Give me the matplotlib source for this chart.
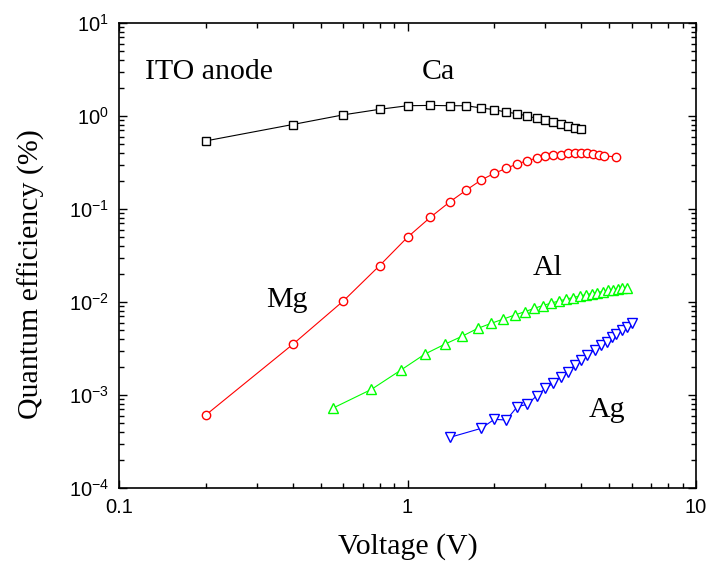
import matplotlib
matplotlib.use("Agg")
import matplotlib.pyplot as plt
from matplotlib.ticker import LogLocator, NullFormatter, FixedFormatter, FixedLocator

# data (voltage in V, quantum efficiency in %)
ca_v = [0.2, 0.4, 0.6, 0.8, 1.0, 1.2, 1.4, 1.6, 1.8, 2.0,
        2.2, 2.4, 2.6, 2.8, 3.0, 3.2, 3.4, 3.6, 3.8, 4.0]
ca_q = [0.54, 0.81, 1.03, 1.18, 1.29, 1.30, 1.29, 1.29, 1.22, 1.17,
        1.10, 1.06, 1.00, 0.945, 0.906, 0.862, 0.826, 0.787, 0.748, 0.719]

mg_v = [0.2, 0.4, 0.6, 0.8, 1.0, 1.2, 1.4, 1.6, 1.8, 2.0,
        2.2, 2.4, 2.6, 2.8, 3.0, 3.2, 3.4, 3.6, 3.8, 4.0,
        4.2, 4.4, 4.6, 4.8, 5.3]
mg_q = [6.1e-4, 3.5e-3, 0.0103, 0.0246, 0.0497, 0.0814, 0.119, 0.160, 0.205, 0.242,
        0.274, 0.305, 0.331, 0.351, 0.371, 0.381, 0.381, 0.397, 0.400, 0.400,
        0.397, 0.390, 0.381, 0.371, 0.365]

al_v = [0.55, 0.75, 0.95, 1.15, 1.35, 1.55, 1.75, 1.95, 2.15, 2.35,
        2.55, 2.75, 2.95, 3.15, 3.35, 3.55, 3.75, 3.95, 4.15, 4.35,
        4.55, 4.75, 4.95, 5.15, 5.35, 5.55, 5.75]
al_q = [7.2e-4, 1.15e-3, 1.86e-3, 2.76e-3, 3.53e-3, 4.3e-3, 5.2e-3, 5.9e-3, 6.56e-3, 7.24e-3,
        7.87e-3, 8.55e-3, 9.17e-3, 9.76e-3, 1.025e-2, 1.076e-2, 1.117e-2, 1.161e-2, 1.198e-2, 1.234e-2,
        1.265e-2, 1.297e-2, 1.33e-2, 1.356e-2, 1.38e-2, 1.403e-2, 1.432e-2]

ag_v = [1.4, 1.8, 2.0, 2.2, 2.4, 2.6, 2.8, 3.0, 3.2, 3.4,
        3.6, 3.8, 4.0, 4.2, 4.45, 4.7, 4.9, 5.1, 5.3, 5.55,
        5.75, 6.0]
ag_q = [3.5e-4, 4.38e-4, 5.48e-4, 5.38e-4, 7.48e-4, 7.94e-4, 9.75e-4, 1.18e-3, 1.34e-3, 1.57e-3,
        1.78e-3, 2.10e-3, 2.38e-3, 2.69e-3, 3.05e-3, 3.45e-3, 3.74e-3, 4.17e-3, 4.53e-3, 5.0e-3,
        5.42e-3, 5.90e-3]

x_ticks = [0.1, 1, 10]
x_tick_labels = ["0.1", "1", "10"]

serif = ["Liberation Serif", "DejaVu Serif"]
tick_font = ["Liberation Sans Narrow", "Liberation Sans", "DejaVu Sans"]

plt.rcParams["font.family"] = tick_font
plt.rcParams["mathtext.default"] = "regular"

fig = plt.figure(figsize=(7.1, 5.68), dpi=100)
ax = fig.add_axes([0.1676, 0.1408, 0.8127, 0.8187])

# main curves
ax.plot(ca_v, ca_q, "-s", color="black", lw=0.8, ms=6, mew=1.0, mfc="white")
ax.plot(mg_v, mg_q, "-o", color="red", lw=0.8, ms=6, mew=1.0, mfc="white")
ax.plot(al_v, al_q, "-^", color="#00ff00", lw=0.8, ms=7, mew=1.0, mfc="white")
ax.plot(ag_v, ag_q, "-v", color="blue", lw=0.8, ms=7, mew=1.0, mfc="white")

ax.set_xscale("log")
ax.set_yscale("log")
ax.set_xlim(0.1, 10)
ax.set_ylim(1e-4, 1e1)

ax.xaxis.set_major_locator(FixedLocator(x_ticks))
ax.xaxis.set_major_formatter(FixedFormatter(x_tick_labels))
ax.xaxis.set_minor_locator(LogLocator(base=10, subs=range(2, 10)))
ax.xaxis.set_minor_formatter(NullFormatter())
ax.yaxis.set_major_locator(LogLocator(base=10, numticks=10))
ax.yaxis.set_minor_locator(LogLocator(base=10, subs=range(2, 10), numticks=10))
ax.yaxis.set_minor_formatter(NullFormatter())

ax.tick_params(which="both", direction="in", top=True, right=True,
               width=1.0, labelsize=14.5, pad=7, colors="black")
ax.tick_params(which="major", length=6)
ax.tick_params(which="minor", length=3.5)
for spine in ax.spines.values():
    spine.set_linewidth(1.2)

ax.set_xlabel("Voltage (V)", family=serif, fontsize=21.5)
ax.set_ylabel("Quantum efficiency (%)", family=serif, fontsize=21.5)
ax.xaxis.set_label_coords(0.5, -0.097)
ax.yaxis.set_label_coords(-0.129, 0.461)

# annotations
ax.text(0.123, 2.97, "ITO anode", family=serif, fontsize=21.5, ha="left", va="center")
ax.text(1.275, 2.97, "Ca", family=serif, fontsize=21.5, ha="center", va="center")
ax.text(0.382, 0.0105, "Mg", family=serif, fontsize=21.5, ha="center", va="center")
ax.text(3.07, 0.0232, "Al", family=serif, fontsize=21.5, ha="center", va="center")
ax.text(4.91, 6.9e-4, "Ag", family=serif, fontsize=21.5, ha="center", va="center")

fig.savefig("out.png", dpi=100)
